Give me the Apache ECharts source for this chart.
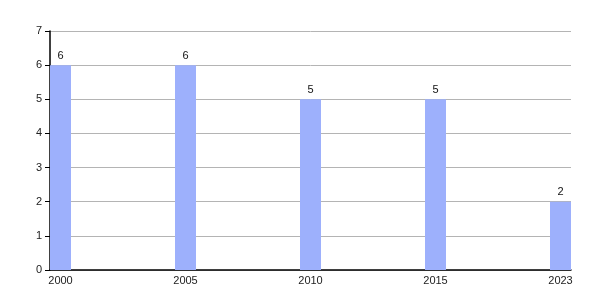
<!DOCTYPE html>
<html>
<head>
<meta charset="utf-8">
<script src="https://cdn.jsdelivr.net/npm/echarts@6/dist/echarts.min.js"></script>
<style>html,body{margin:0;padding:0;background:#fff;}#c{width:600px;height:300px;}</style>
</head>
<body>
<div id="c"></div>
<script>
var categories = ['2000', '2005', '2010', '2015', '2023'];
var values = [6, 6, 5, 5, 2];
var yTicks = [0, 1, 2, 3, 4, 5, 6, 7];

var positions = categories.map(function (c, i) { return i; });
var chart = echarts.init(document.getElementById('c'), null, { renderer: 'canvas' });
chart.setOption({
  animation: false,
  backgroundColor: '#ffffff',
  grid: { left: 50, right: 29, top: 31, bottom: 30, containLabel: false },
  xAxis: {
    type: 'value',
    min: -0.084,
    max: 4.084,
    axisLine: { show: true, onZero: false, lineStyle: { color: '#000', width: 1.5 } },
    axisTick: { show: false },
    splitLine: { show: false },
    axisLabel: {
      customValues: positions,
      formatter: function (v) { return categories[Math.round(v)]; },
      color: '#222',
      fontSize: 11,
      fontFamily: 'Liberation Sans, Arial, sans-serif',
      margin: 5
    }
  },
  yAxis: {
    type: 'value',
    min: yTicks[0],
    max: yTicks[yTicks.length - 1],
    interval: 1,
    axisLine: { show: true, onZero: false, lineStyle: { color: '#000', width: 1.5 } },
    axisTick: { show: true, length: 5, lineStyle: { color: '#000' } },
    splitLine: { show: true, lineStyle: { color: '#b4b4b4', width: 1 } },
    axisLabel: {
      color: '#222',
      fontSize: 11,
      fontFamily: 'Liberation Sans, Arial, sans-serif',
      margin: 8
    }
  },
  series: [{
    type: 'bar',
    barWidth: 21,
    data: values.map(function (v, i) { return [positions[i], v]; }),
    itemStyle: { color: '#9db0fc' },
    label: {
      show: true,
      position: 'top',
      distance: 4,
      color: '#111',
      fontSize: 11,
      fontFamily: 'Liberation Sans, Arial, sans-serif'
    }
  }]
});
</script>
</body>
</html>
